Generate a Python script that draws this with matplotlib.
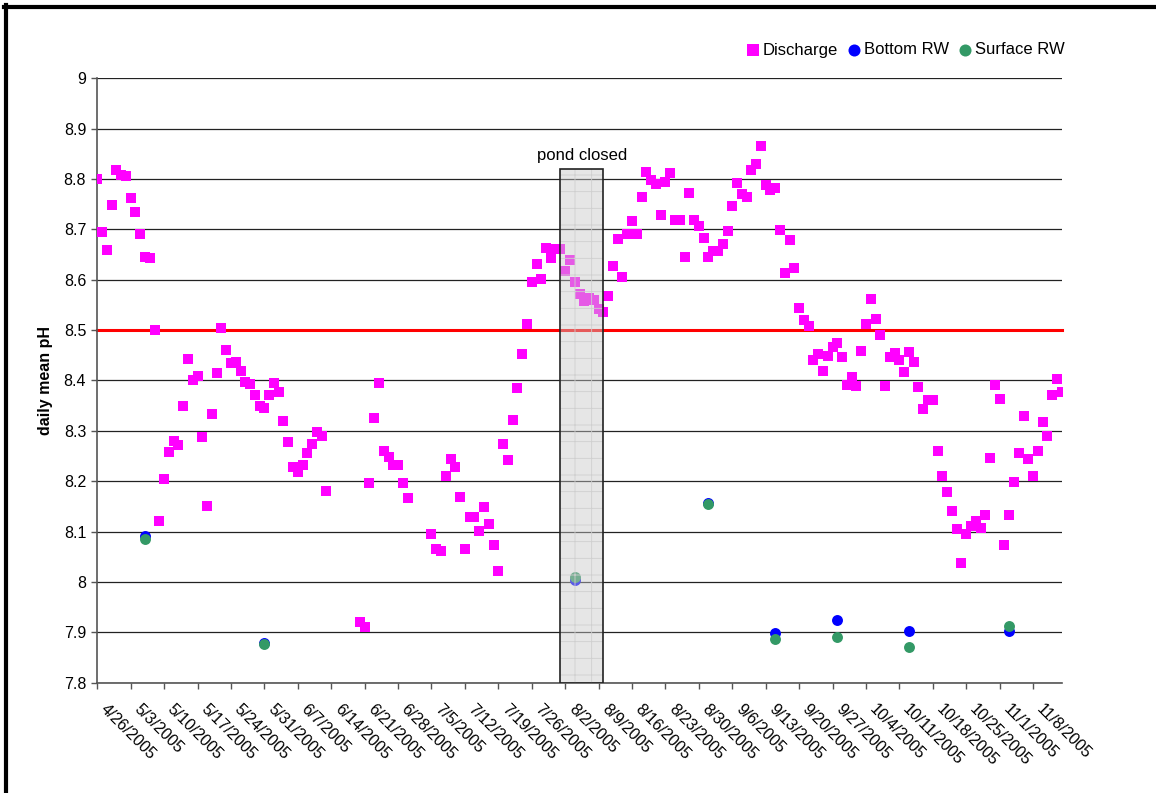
import datetime as dt
import matplotlib
matplotlib.use("Agg")
import matplotlib.pyplot as plt
import matplotlib.dates as mdates
from matplotlib.lines import Line2D
from matplotlib.patches import Rectangle

plt.rcParams['font.family'] = ['Liberation Sans', 'DejaVu Sans']
plt.rcParams['hatch.linewidth'] = 0.6

start = dt.date(2005, 4, 26)

# discharge: day offsets from 4/26/2005 and daily mean pH
disch_days = list(range(0, 49)) + list(range(55, 66)) + list(range(70, 203))
disch_ph = [
    8.801, 8.695, 8.660, 8.748, 8.817, 8.809, 8.807, 8.762, 8.734, 8.690,
    8.645, 8.643, 8.500, 8.122, 8.204, 8.258, 8.279, 8.271, 8.349, 8.443,
    8.400, 8.408, 8.288, 8.150, 8.334, 8.415, 8.504, 8.460, 8.435, 8.437,
    8.419, 8.397, 8.394, 8.372, 8.349, 8.345, 8.372, 8.396, 8.377, 8.319,
    8.278, 8.228, 8.218, 8.233, 8.257, 8.273, 8.298, 8.290, 8.180,
    # 6/19 - 6/29
    7.920, 7.911, 8.196, 8.326, 8.395, 8.261, 8.248, 8.233, 8.233, 8.197,
    8.167,
    # 7/5 onwards
    8.095, 8.065, 8.061, 8.211, 8.245, 8.229, 8.168, 8.065, 8.129, 8.129,
    8.102, 8.148, 8.116, 8.073, 8.022, 8.273, 8.243, 8.321, 8.386, 8.452,
    8.513, 8.595, 8.631, 8.602, 8.664, 8.643, 8.661, 8.661, 8.618, 8.640,
    8.595, 8.572, 8.558, 8.564, 8.560, 8.542, 8.536, 8.568, 8.628, 8.680,
    8.605, 8.690, 8.717, 8.690, 8.764, 8.813, 8.799, 8.791, 8.729, 8.794,
    8.811, 8.719, 8.719, 8.645, 8.772, 8.718, 8.706, 8.682, 8.646, 8.657,
    8.657, 8.672, 8.697, 8.746, 8.793, 8.771, 8.764, 8.817, 8.830, 8.866,
    8.789, 8.779, 8.783, 8.698, 8.613, 8.678, 8.623, 8.544, 8.521, 8.509,
    8.440, 8.452, 8.419, 8.449, 8.466, 8.474, 8.446, 8.392, 8.406, 8.390,
    8.459, 8.512, 8.561, 8.522, 8.491, 8.389, 8.447, 8.455, 8.440, 8.416,
    8.456, 8.437, 8.388, 8.343, 8.362, 8.362, 8.260, 8.210, 8.179, 8.141,
    8.106, 8.038, 8.096, 8.112, 8.121, 8.107, 8.132, 8.246, 8.392, 8.364,
    8.073, 8.132, 8.198, 8.257, 8.329, 8.245, 8.211, 8.261, 8.318, 8.290,
    8.372, 8.402, 8.378,
]
assert len(disch_days) == len(disch_ph)

rw_days = [10, 35, 100, 128, 142, 155, 170, 191]
bottom_ph = [8.092, 7.878, 8.004, 8.157, 7.899, 7.925, 7.903, 7.903]
surface_ph = [8.085, 7.876, 8.010, 8.154, 7.886, 7.890, 7.870, 7.913]

threshold = 8.5
closed_from, closed_to, closed_top = 97, 106, 8.82   # 8/1 - 8/10
x_last = 202.4

def to_num(days):
    return [mdates.date2num(start + dt.timedelta(days=d)) for d in days]

fig = plt.figure(figsize=(11.56, 7.93), dpi=100)
ax = fig.add_axes([97.3 / 1156, 1 - 682.7 / 793, (1061.7 - 97.3) / 1156, (682.7 - 78.3) / 793])

ax.scatter(to_num(disch_days), disch_ph, marker='s', s=56, color='#FF00FF', linewidths=0,
           label='Discharge', zorder=3)
ax.scatter(to_num(rw_days), bottom_ph, marker='o', s=62, color='#0000FF', linewidths=0,
           label='Bottom RW', zorder=4)
ax.scatter(to_num(rw_days), surface_ph, marker='o', s=62, color='#339966', linewidths=0,
           label='Surface RW', zorder=5)

ax.axhline(threshold, color='#FF0000', lw=2.2, zorder=2, clip_on=False)

# pond closed box, drawn over the points
x0, x1 = to_num([closed_from, closed_to])
ax.add_patch(Rectangle((x0, 7.8), x1 - x0, closed_top - 7.8, facecolor='#C8C8C8', alpha=0.45,
                       edgecolor='none', zorder=6))
ax.add_patch(Rectangle((x0, 7.8), x1 - x0, closed_top - 7.8, facecolor='none', hatch='+',
                       edgecolor='#CFCFCF', lw=0, zorder=6))
ax.add_patch(Rectangle((x0, 7.8), x1 - x0, closed_top - 7.8, facecolor='none',
                       edgecolor='#222222', lw=1.2, zorder=7))
ax.text((x0 + x1) / 2, closed_top + 0.012, 'pond closed', ha='center', va='bottom', fontsize=12)

ax.set_ylim(7.8, 9.0)
ax.set_yticks([7.8 + 0.1 * i for i in range(13)])
ax.set_yticklabels(['7.8', '7.9', '8', '8.1', '8.2', '8.3', '8.4', '8.5', '8.6', '8.7', '8.8', '8.9', '9'])
ax.set_xlim(to_num([0])[0], to_num([x_last])[0])

# weekly date ticks, labels placed slanted just right of each tick
tick_days = list(range(0, 197, 7))
tick_dates = [start + dt.timedelta(days=d) for d in tick_days]
ax.set_xticks(to_num(tick_days))
ax.set_xticklabels([])
for xn, d in zip(to_num(tick_days), tick_dates):
    ax.annotate(f"{d.month}/{d.day}/{d.year}", xy=(xn, 0), xycoords=ax.get_xaxis_transform(),
                xytext=(8, -13.5), textcoords='offset points', rotation=-45,
                rotation_mode='anchor', ha='left', va='top', fontsize=11.5, annotation_clip=False)

ax.tick_params(axis='both', labelsize=11.5, length=4, width=1, color='#555555', direction='out')
ax.tick_params(axis='y', pad=4)
ax.yaxis.grid(True, color='#222222', lw=0.9)
ax.set_axisbelow(True)
for side in ['top', 'right']:
    ax.spines[side].set_visible(False)
for side in ['left', 'bottom']:
    ax.spines[side].set_color('#555555')
    ax.spines[side].set_linewidth(1.2)

ax.set_ylabel('daily mean pH', fontsize=11.5, fontweight='bold', labelpad=8)

fig.legend(loc='center right', bbox_to_anchor=(1071 / 1156, 1 - 50 / 793), ncol=3, frameon=False,
           fontsize=12, handletextpad=0.05, columnspacing=0.5, borderaxespad=0, handlelength=1.0,
           scatterpoints=1, markerscale=1.1)

# outer border of chart area (top and left edges)
fig.add_artist(Line2D([5.5 / 1156, 5.5 / 1156], [0, 1 - 5 / 793], color='black', lw=3,
                      transform=fig.transFigure))
fig.add_artist(Line2D([4 / 1156, 1], [1 - 7 / 793, 1 - 7 / 793], color='black', lw=3,
                      transform=fig.transFigure))

fig.savefig('out.png', dpi=100)
